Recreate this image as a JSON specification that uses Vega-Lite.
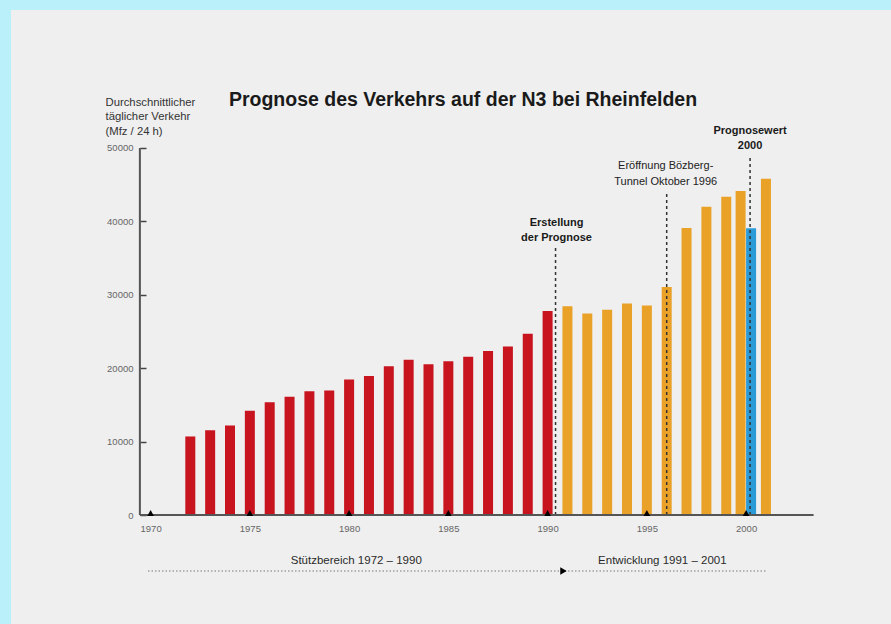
{
  "$schema": "https://vega.github.io/schema/vega-lite/v6.json",
  "width": 880,
  "height": 614,
  "autosize": {"type": "none"},
  "padding": {"left": 11, "top": 10, "right": 0, "bottom": 0},
  "background": "#b9f0fa",
  "config": {
    "view": {"fill": "#efefef", "stroke": null},
    "font": "Liberation Sans"
  },
  "title": {
    "text": "Prognose des Verkehrs auf der N3 bei Rheinfelden",
    "fontSize": 19.5,
    "fontWeight": "bold",
    "color": "#1a1a1a",
    "anchor": "middle",
    "frame": "group",
    "offset": -115,
    "dx": 12,
    "baseline": "alphabetic"
  },
  "datasets": {
    "bars": [
      {"year": 1972, "value": 10700, "phase": "Stützbereich"},
      {"year": 1973, "value": 11550, "phase": "Stützbereich"},
      {"year": 1974, "value": 12200, "phase": "Stützbereich"},
      {"year": 1975, "value": 14200, "phase": "Stützbereich"},
      {"year": 1976, "value": 15350, "phase": "Stützbereich"},
      {"year": 1977, "value": 16100, "phase": "Stützbereich"},
      {"year": 1978, "value": 16850, "phase": "Stützbereich"},
      {"year": 1979, "value": 16950, "phase": "Stützbereich"},
      {"year": 1980, "value": 18450, "phase": "Stützbereich"},
      {"year": 1981, "value": 18950, "phase": "Stützbereich"},
      {"year": 1982, "value": 20250, "phase": "Stützbereich"},
      {"year": 1983, "value": 21150, "phase": "Stützbereich"},
      {"year": 1984, "value": 20550, "phase": "Stützbereich"},
      {"year": 1985, "value": 20950, "phase": "Stützbereich"},
      {"year": 1986, "value": 21550, "phase": "Stützbereich"},
      {"year": 1987, "value": 22350, "phase": "Stützbereich"},
      {"year": 1988, "value": 22950, "phase": "Stützbereich"},
      {"year": 1989, "value": 24700, "phase": "Stützbereich"},
      {"year": 1990, "value": 27800, "phase": "Stützbereich"},
      {"year": 1991, "value": 28450, "phase": "Entwicklung"},
      {"year": 1992, "value": 27450, "phase": "Entwicklung"},
      {"year": 1993, "value": 27950, "phase": "Entwicklung"},
      {"year": 1994, "value": 28800, "phase": "Entwicklung"},
      {"year": 1995, "value": 28550, "phase": "Entwicklung"},
      {"year": 1996, "value": 31050, "phase": "Entwicklung"},
      {"year": 1997, "value": 39100, "phase": "Entwicklung"},
      {"year": 1998, "value": 42000, "phase": "Entwicklung"},
      {"year": 1999, "value": 43350, "phase": "Entwicklung"},
      {"year": 2000, "value": 44150, "phase": "Entwicklung"},
      {"year": 2001, "value": 45800, "phase": "Entwicklung"},
      {"year": 2000, "value": 39050, "phase": "Prognosewert"}
    ],
    "ticks5": [
      {"year": 1970, "value": 0}, {"year": 1975, "value": 0}, {"year": 1980, "value": 0},
      {"year": 1985, "value": 0}, {"year": 1990, "value": 0}, {"year": 1995, "value": 0},
      {"year": 2000, "value": 0}
    ],
    "events": [
      {"year": 1990.4, "value": 0, "top": 36400},
      {"year": 1996, "value": 0, "top": 43900},
      {"year": 2000.2, "value": 0, "top": 48800}
    ],
    "yline": [
      {"year": 1969.46, "value": 0, "top": 50000}
    ],
    "xline": [
      {"year": 1969.46, "end": 2003.4, "value": 0}
    ],
    "span": [
      {"year": 1969.87, "end": 2001.0, "value": -7630}
    ],
    "arrow": [
      {"year": 1990.8, "value": -7630}
    ],
    "notesBold": [
      {"year": 1990.45, "value": 39440, "text": "Erstellung\nder Prognose"},
      {"year": 2000.2, "value": 51910, "text": "Prognosewert\n2000"}
    ],
    "notesNormal": [
      {"year": 1995.95, "value": 47140, "text": "Eröffnung Bözberg-\nTunnel Oktober 1996"}
    ],
    "ranges": [
      {"year": 1980.36, "value": -6230, "text": "Stützbereich 1972 – 1990"},
      {"year": 1995.78, "value": -6230, "text": "Entwicklung 1991 – 2001"}
    ]
  },
  "layer": [
    {
      "data": {"name": "bars"},
      "transform": [{"filter": "datum.year !== 2000"}],
      "mark": {"type": "bar", "width": 10},
      "encoding": {
        "x": {
          "field": "year",
          "type": "quantitative",
          "title": null,
          "scale": {"domain": [1962.967, 2007.3], "nice": false, "zero": false, "padding": 0},
          "axis": {
            "values": [1970, 1975, 1980, 1985, 1990, 1995, 2000],
            "format": "d",
            "ticks": false,
            "domain": false,
            "grid": false,
            "offset": -109,
            "labelPadding": 8,
            "labelFontSize": 9.5,
            "labelColor": "#666666"
          }
        },
        "y": {
          "field": "value",
          "type": "quantitative",
          "title": ["Durchschnittlicher", "täglicher Verkehr", "(Mfz / 24 h)"],
          "scale": {"domain": [-14850, 68801], "nice": false, "zero": false, "padding": 0},
          "axis": {
            "values": [0, 10000, 20000, 30000, 40000, 50000],
            "format": "d",
            "domain": false,
            "grid": false,
            "ticks": true,
            "tickSize": -6,
            "tickWidth": 1.5,
            "tickColor": "#444444",
            "offset": -129,
            "labelPadding": 13,
            "labelFontSize": 9.5,
            "labelColor": "#666666",
            "titleAngle": 0,
            "titleAlign": "left",
            "titleBaseline": "alphabetic",
            "titleX": -35,
            "titleY": 95,
            "titleFontSize": 11.3,
            "titleFontWeight": "normal",
            "titleColor": "#333333",
            "titleLineHeight": 14.5
          }
        },
        "color": {
          "field": "phase",
          "type": "nominal",
          "scale": {
            "domain": ["Stützbereich", "Entwicklung", "Prognosewert"],
            "range": ["#c8141e", "#e9a127", "#2b9bd8"]
          },
          "legend": null
        }
      }
    },
    {
      "data": {"name": "bars"},
      "transform": [{"filter": "datum.year === 2000 && datum.phase === 'Entwicklung'"}],
      "mark": {"type": "bar", "width": 10, "xOffset": -5.5},
      "encoding": {
        "x": {"field": "year", "type": "quantitative"},
        "y": {"field": "value", "type": "quantitative"},
        "color": {"field": "phase", "type": "nominal", "legend": null}
      }
    },
    {
      "data": {"name": "bars"},
      "transform": [{"filter": "datum.phase === 'Prognosewert'"}],
      "mark": {"type": "bar", "width": 10, "xOffset": 5},
      "encoding": {
        "x": {"field": "year", "type": "quantitative"},
        "y": {"field": "value", "type": "quantitative"},
        "color": {"field": "phase", "type": "nominal", "legend": null}
      }
    },
    {
      "data": {"name": "events"},
      "mark": {"type": "rule", "strokeDash": [3, 3], "strokeWidth": 1.5, "color": "#333333"},
      "encoding": {
        "x": {"field": "year", "type": "quantitative"},
        "y": {"field": "value", "type": "quantitative"},
        "y2": {"field": "top"}
      }
    },
    {
      "data": {"name": "yline"},
      "mark": {"type": "rule", "strokeWidth": 2, "color": "#555555"},
      "encoding": {
        "x": {"field": "year", "type": "quantitative"},
        "y": {"field": "value", "type": "quantitative"},
        "y2": {"field": "top"}
      }
    },
    {
      "data": {"name": "xline"},
      "mark": {"type": "rule", "strokeWidth": 2, "color": "#555555"},
      "encoding": {
        "x": {"field": "year", "type": "quantitative"},
        "x2": {"field": "end"},
        "y": {"field": "value", "type": "quantitative"}
      }
    },
    {
      "data": {"name": "ticks5"},
      "mark": {"type": "point", "shape": "triangle-up", "filled": true, "color": "#000000", "size": 45, "opacity": 1, "yOffset": -2},
      "encoding": {
        "x": {"field": "year", "type": "quantitative"},
        "y": {"field": "value", "type": "quantitative"}
      }
    },
    {
      "data": {"name": "notesBold"},
      "mark": {"type": "text", "fontSize": 11, "fontWeight": "bold", "color": "#1a1a1a", "align": "center", "baseline": "alphabetic", "lineBreak": "\n", "lineHeight": 15.5},
      "encoding": {
        "x": {"field": "year", "type": "quantitative"},
        "y": {"field": "value", "type": "quantitative"},
        "text": {"field": "text"}
      }
    },
    {
      "data": {"name": "notesNormal"},
      "mark": {"type": "text", "fontSize": 11, "color": "#222222", "align": "center", "baseline": "alphabetic", "lineBreak": "\n", "lineHeight": 16.5},
      "encoding": {
        "x": {"field": "year", "type": "quantitative"},
        "y": {"field": "value", "type": "quantitative"},
        "text": {"field": "text"}
      }
    },
    {
      "data": {"name": "ranges"},
      "mark": {"type": "text", "fontSize": 11.5, "color": "#2a2a2a", "align": "center", "baseline": "middle"},
      "encoding": {
        "x": {"field": "year", "type": "quantitative"},
        "y": {"field": "value", "type": "quantitative"},
        "text": {"field": "text"}
      }
    },
    {
      "data": {"name": "span"},
      "mark": {"type": "rule", "strokeDash": [1.5, 2], "strokeWidth": 1.2, "color": "#777777"},
      "encoding": {
        "x": {"field": "year", "type": "quantitative"},
        "x2": {"field": "end"},
        "y": {"field": "value", "type": "quantitative"}
      }
    },
    {
      "data": {"name": "arrow"},
      "mark": {"type": "point", "shape": "triangle-right", "filled": true, "color": "#000000", "size": 55, "opacity": 1},
      "encoding": {
        "x": {"field": "year", "type": "quantitative"},
        "y": {"field": "value", "type": "quantitative"}
      }
    }
  ]
}
